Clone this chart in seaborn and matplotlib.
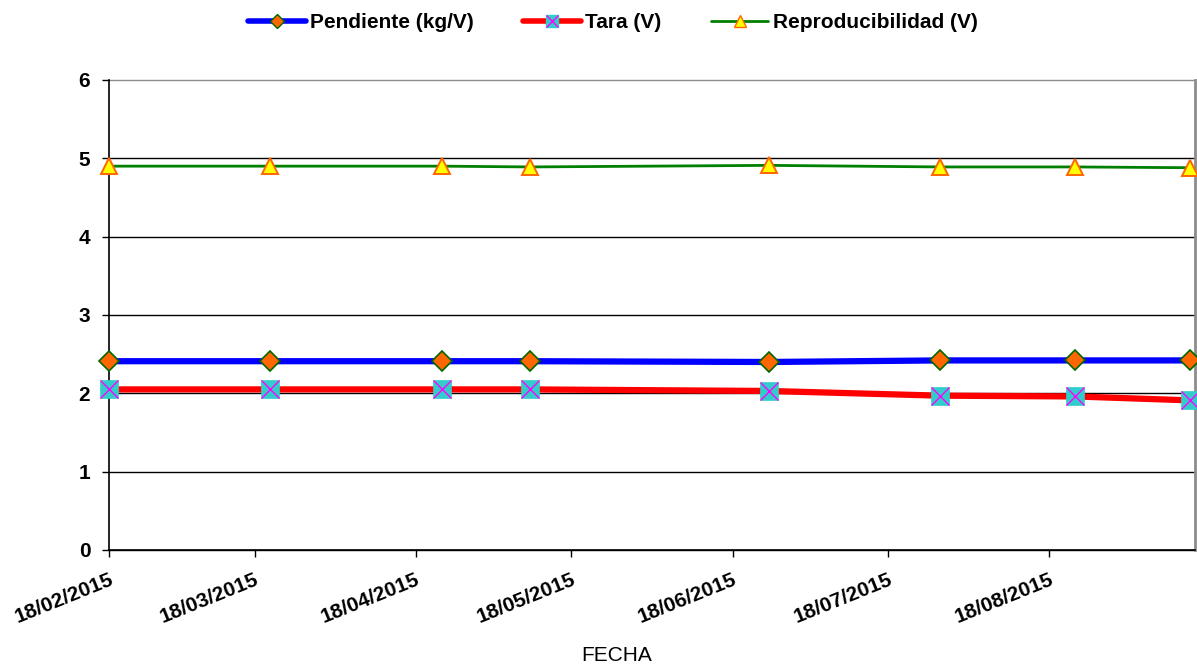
import matplotlib
matplotlib.use("Agg")
import matplotlib.pyplot as plt
import matplotlib.dates as mdates
from matplotlib.lines import Line2D
from matplotlib.legend_handler import HandlerTuple
import pandas as pd
import seaborn as sns

fechas = ["2015-02-18", "2015-03-21", "2015-04-23", "2015-05-10",
          "2015-06-25", "2015-07-28", "2015-08-23", "2015-09-14"]
pendiente = [2.41, 2.41, 2.41, 2.41, 2.40, 2.42, 2.42, 2.42]
tara = [2.05, 2.05, 2.05, 2.05, 2.03, 1.97, 1.96, 1.91]
reproducibilidad = [4.90, 4.90, 4.90, 4.89, 4.91, 4.89, 4.89, 4.88]

df = pd.DataFrame({
    "FECHA": pd.to_datetime(fechas),
    "Pendiente (kg/V)": pendiente,
    "Tara (V)": tara,
    "Reproducibilidad (V)": reproducibilidad,
})

sns.set_theme(style="white")
plt.rcParams["font.family"] = ["Liberation Sans", "DejaVu Sans"]
plt.rcParams["text.color"] = "black"
plt.rcParams["axes.labelcolor"] = "black"
plt.rcParams["xtick.color"] = "black"
plt.rcParams["ytick.color"] = "black"

fig = plt.figure(figsize=(11.97, 6.66), dpi=100)
ax = fig.add_axes([0.0911, 0.1742, 0.9072, 0.7057])

# horizontal grid lines at each unit
for v in range(0, 7):
    ax.axhline(v, color="#000000" if v < 6 else "#8c8c8c", lw=1.0, zorder=0)

sns.lineplot(data=df, x="FECHA", y="Reproducibilidad (V)", ax=ax, color="#008000",
             lw=2.0, marker="^", markersize=11, markerfacecolor="#FFFF00",
             markeredgecolor="#FF6600", markeredgewidth=1.4, zorder=3)
sns.lineplot(data=df, x="FECHA", y="Pendiente (kg/V)", ax=ax, color="#0000FF",
             lw=4.5, marker="D", markersize=10.5, markerfacecolor="#FF6600",
             markeredgecolor="#006600", markeredgewidth=1.2, zorder=4)
sns.lineplot(data=df, x="FECHA", y="Tara (V)", ax=ax, color="#FF0000",
             lw=4.5, marker="s", markersize=13.5, markerfacecolor="#33CCCC",
             markeredgecolor="#33CCCC", markeredgewidth=0.5, zorder=5)
ax.plot(df["FECHA"], df["Tara (V)"], ls="none", marker="x", markersize=12.5,
        markeredgecolor="#FF00FF", markeredgewidth=1.0, zorder=6, clip_on=False)
for ln in ax.get_lines():
    ln.set_clip_on(False)

ax.set_xlim(pd.Timestamp("2015-02-18"), pd.Timestamp("2015-09-15"))
ax.set_ylim(0, 6)
ax.set_yticks(range(0, 7))
ax.xaxis.set_major_locator(mdates.MonthLocator(bymonthday=18))
ax.xaxis.set_major_formatter(mdates.DateFormatter("%d/%m/%Y"))

ax.tick_params(axis="both", which="major", direction="out", length=5, width=1,
               color="black", bottom=True, left=True)
ax.tick_params(axis="y", labelsize=15, pad=8.5)
ax.tick_params(axis="x", labelsize=15, pad=9)

for lab in ax.get_yticklabels():
    lab.set_fontweight("bold")
for lab in ax.get_xticklabels():
    lab.set_fontweight("bold")
    lab.set_rotation(22)
    lab.set_ha("right")
    lab.set_rotation_mode("anchor")

ax.set_ylabel("")
ax.set_xlabel("FECHA", fontsize=15)
ax.xaxis.set_label_coords(0.467, -0.205)

for side in ("left", "bottom"):
    ax.spines[side].set_color("black")
    ax.spines[side].set_linewidth(1.2)
ax.spines["right"].set_color("#8c8c8c")
ax.spines["right"].set_linewidth(2)
ax.spines["top"].set_visible(False)

h_pend = Line2D([], [], color="#0000FF", lw=4, marker="D", markersize=7,
                markerfacecolor="#FF6600", markeredgecolor="#006600")
h_tara = Line2D([], [], color="#FF0000", lw=4, marker="s", markersize=8,
                markerfacecolor="#33CCCC", markeredgecolor="#33CCCC")
h_tara_x = Line2D([], [], ls="none", marker="x", markersize=8,
                  markeredgecolor="#FF00FF", markeredgewidth=1)
h_rep = Line2D([], [], color="#008000", lw=2, marker="^", markersize=8,
               markerfacecolor="#FFFF00", markeredgecolor="#FF6600")
fig.legend([h_pend, (h_tara, h_tara_x), h_rep],
           ["Pendiente (kg/V)", "Tara (V)", "Reproducibilidad (V)"],
           handler_map={tuple: HandlerTuple(ndivide=1)},
           loc="center", bbox_to_anchor=(0.512, 0.966), ncol=3, frameon=False,
           prop={"weight": "bold", "size": 15},
           handlelength=2.75, handletextpad=0.2, columnspacing=2.4)

fig.savefig("out.png", dpi=100)
